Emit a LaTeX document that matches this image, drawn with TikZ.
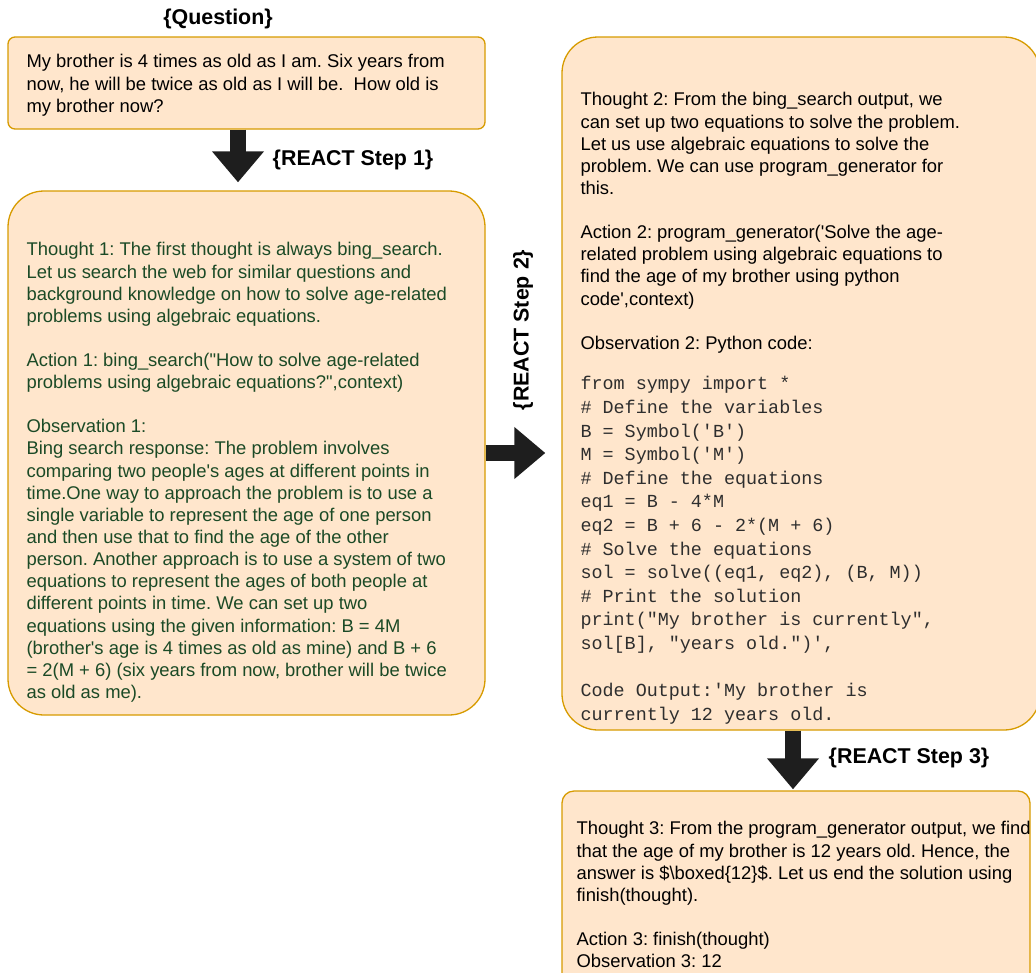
\documentclass[tikz,border=0pt]{standalone}
\usepackage{fontspec}
\setmainfont{Liberation Sans}[Ligatures=TeXOff]
\setmonofont{Liberation Mono}
\usetikzlibrary{positioning, arrows.meta}
\definecolor{boxfill}{HTML}{FFE6CC}
\definecolor{boxline}{HTML}{D79B00}
\definecolor{obsgreen}{HTML}{1B4A26}
\definecolor{arrowgray}{HTML}{1E1E1E}
\definecolor{codegray}{HTML}{2E2E2E}
\tikzstyle{qbox} = [rectangle, rounded corners=7pt, minimum width=477pt, minimum height=92pt, draw=boxline, fill=boxfill, line width=1.3pt]
\tikzstyle{bigbox} = [rectangle, rounded corners=36pt, draw=boxline, fill=boxfill, line width=1.3pt]
\tikzstyle{boxtext} = [inner sep=0pt, align=left, font=\fontsize{18.4}{22.15}\selectfont]
\tikzstyle{codetext} = [inner sep=0pt, align=left, text=codegray, font=\ttfamily\fontsize{18.4}{23.6}\selectfont]
\tikzstyle{steplabel} = [inner sep=0pt, font=\bfseries\fontsize{21.4}{25}\selectfont]
\tikzstyle{arrow} = [draw=arrowgray, line width=16pt, -{Triangle[length=31pt, width=50pt]}]
\frenchspacing

\begin{document}
\begin{tikzpicture}[x=1pt, y=-1pt]
    \useasboundingbox (0,0) rectangle (1036,972);

    %boxes
    \node (question) [qbox] at (246.5,83) {};
    \node (react1) [bigbox, minimum width=477pt, minimum height=524pt] at (246.5,453) {};
    \node (react2) [bigbox, minimum width=478pt, minimum height=693pt] at (801,383.5) {};
    \node (react3) [bigbox, rounded corners=12pt, minimum width=468pt, minimum height=220pt] at (796,901) {};

    %texts
    \node (questiontxt) [boxtext, below right=18pt and 19pt of question.north west] {My brother is 4 times as old as I am. Six years from\\now, he will be twice as old as I will be.\ \ How old is\\my brother now?};
    \node (react1txt) [boxtext, text=obsgreen, below right=52pt and 19pt of react1.north west] {Thought 1: The first thought is always bing\_search.\\Let us search the web for similar questions and\\background knowledge on how to solve age-related\\problems using algebraic equations.\\[22pt]
    Action 1: bing\_search("How to solve age-related\\problems using algebraic equations?",context)\\[22pt]
    Observation 1:\\Bing search response: The problem involves\\comparing two people's ages at different points in\\time.One way to approach the problem is to use a\\single variable to represent the age of one person\\and then use that to find the age of the other\\person. Another approach is to use a system of two\\equations to represent the ages of both people at\\different points in time. We can set up two\\equations using the given information: B = 4M\\(brother's age is 4 times as old as mine) and B + 6\\= 2(M + 6) (six years from now, brother will be twice\\as old as me).};
    \node (react2txt) [boxtext, below right=56pt and 19pt of react2.north west] {Thought 2: From the bing\_search output, we\\can set up two equations to solve the problem.\\Let us use algebraic equations to solve the\\problem. We can use program\_generator for\\this.\\[22pt]
    Action 2: program\_generator('Solve the age-\\related problem using algebraic equations to\\find the age of my brother using python\\code',context)\\[22pt]
    Observation 2: Python code:};
    \node (react2code) [codetext, below right=340pt and 19pt of react2.north west] {from sympy import *\\\# Define the variables\\B = Symbol('B')\\M = Symbol('M')\\\# Define the equations\\eq1 = B - 4*M\\eq2 = B + 6 - 2*(M + 6)\\\# Solve the equations\\sol = solve((eq1, eq2), (B, M))\\\# Print the solution\\print("My brother is currently",\\sol[B], "years old.")',\\[23.6pt]
    Code Output:'My brother is\\currently 12 years old.};
    \node (react3txt) [boxtext, below right=31pt and 15pt of react3.north west] {Thought 3: From the program\_generator output, we find\\that the age of my brother is 12 years old. Hence, the\\answer is \$\textbackslash boxed\{12\}\$. Let us end the solution using\\finish(thought).\\[22pt]
    Action 3: finish(thought)\\Observation 3: 12};

    %labels
    \node (qlabel) [steplabel] at (218,19) {\{Question\}};
    \node (step1) [steplabel] at (353,160) {\{REACT Step 1\}};
    \node (step2) [steplabel, rotate=90] at (523,330) {\{REACT Step 2\}};
    \node (step3) [steplabel] at (909,758) {\{REACT Step 3\}};

    %arrows
    \draw [arrow, shorten >=8pt] ([xshift=-8.5pt]question.south) -- ([xshift=-8.5pt]react1.north);
    \draw [arrow, shorten >=16pt] (react1.east) -- (react1.east -| react2.west);
    \draw [arrow, shorten >=1pt] ([xshift=-3pt]react3.north |- react2.south) -- ([xshift=-3pt]react3.north);

\end{tikzpicture}
\end{document}
